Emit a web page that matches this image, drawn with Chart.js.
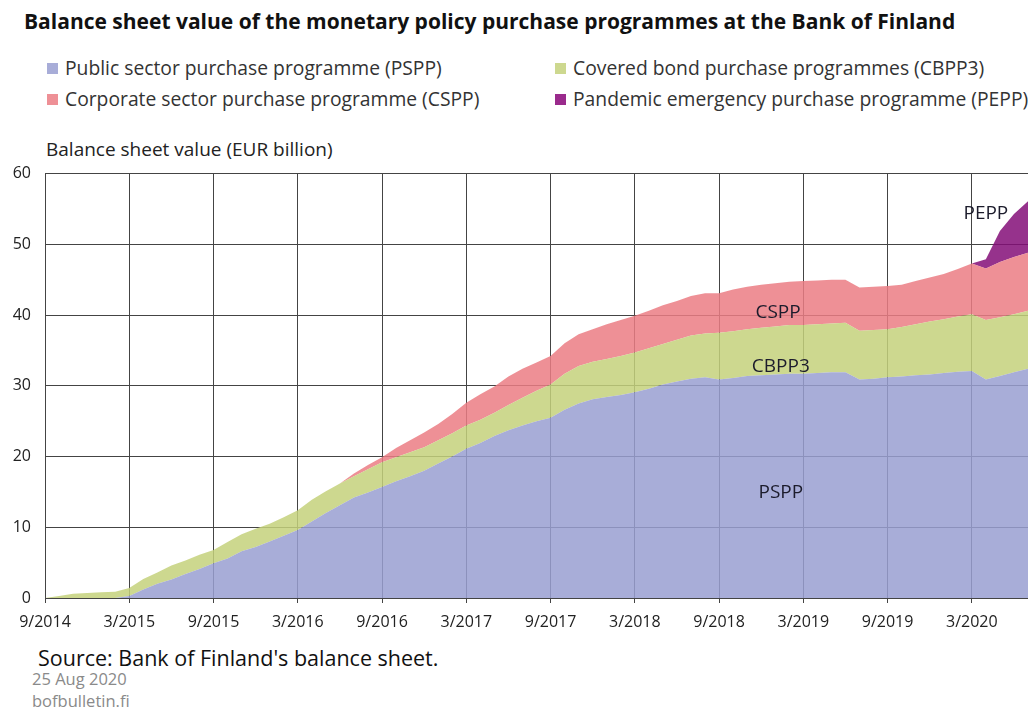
<!DOCTYPE html>
<html>
<head>
<meta charset="utf-8">
<script src="https://cdn.jsdelivr.net/npm/chart.js@4/dist/chart.umd.min.js"></script>
<style>
  body { margin: 0; background: #fff; font-family: "Open Sans", sans-serif; color: #222; }
  #wrap { position: relative; width: 1028px; height: 709px; overflow: hidden; }
  .abs { position: absolute; white-space: nowrap; line-height: 1; }
  #title { left: 24px; top: 11px; font-size: 21px; font-weight: bold; color: #111; }
  .leg { font-size: 19.3px; color: #333; }
  .leg i { display: inline-block; width: 11px; height: 11px; margin-right: 7px; vertical-align: 1px; }
  #ytitle { left: 46px; top: 140px; font-size: 19px; color: #222; }
  #source { left: 38px; top: 647px; font-size: 21.5px; color: #111; }
  .foot { left: 32px; font-size: 16.5px; color: #8a8a8a; }
  #chart { position: absolute; left: 0; top: 150px; }
</style>
</head>
<body>
<div id="wrap">
  <div id="title" class="abs">Balance sheet value of the monetary policy purchase programmes at the Bank of Finland</div>
  <div class="abs leg" style="left:47px; top:58px"><i style="background:#a8add8"></i>Public sector purchase programme (PSPP)</div>
  <div class="abs leg" style="left:555px; top:58px"><i style="background:#cdd88f"></i>Covered bond purchase programmes (CBPP3)</div>
  <div class="abs leg" style="left:47px; top:89px"><i style="background:#ee9096"></i>Corporate sector purchase programme (CSPP)</div>
  <div class="abs leg" style="left:555px; top:89px"><i style="background:#9a2a8c"></i>Pandemic emergency purchase programme (PEPP)</div>
  <div id="ytitle" class="abs">Balance sheet value (EUR billion)</div>
  <canvas id="chart" width="1028" height="488"></canvas>
  <div id="source" class="abs">Source: Bank of Finland's balance sheet.</div>
  <div class="abs foot" style="top:671px">25 Aug 2020</div>
  <div class="abs foot" style="top:693px">bofbulletin.fi</div>
</div>
<script>
// months since 9/2014 (0 = 9/2014 ... 70 = 7/2020)
const months = Array.from({ length: 71 }, (_, i) => i);

// EUR billion, monthly
const pspp = [
  0, 0, 0, 0, 0, 0, 0.3, 1.2, 2.0, 2.6, 3.4, 4.1, 4.9, 5.6, 6.6, 7.2, 8.0, 8.8, 9.6, 10.8,
  12.0, 13.1, 14.2, 14.9, 15.7, 16.5, 17.2, 18.0, 19.0, 20.0, 21.1, 21.9, 22.9, 23.7, 24.4, 25.0, 25.5, 26.6, 27.5, 28.1,
  28.4, 28.7, 29.1, 29.6, 30.2, 30.6, 31.0, 31.2, 30.9, 31.1, 31.4, 31.5, 31.6, 31.7, 31.7, 31.8, 31.9, 31.9, 30.9, 31.0,
  31.2, 31.3, 31.5, 31.6, 31.8, 32.0, 32.1, 30.9, 31.4, 31.9, 32.4
];
const cbpp3 = [
  0, 0.3, 0.6, 0.7, 0.8, 0.9, 1.1, 1.5, 1.6, 2.0, 1.9, 2.0, 1.9, 2.3, 2.4, 2.6, 2.5, 2.6, 2.8, 3.1,
  3.1, 3.1, 3.0, 3.3, 3.5, 3.4, 3.4, 3.3, 3.3, 3.3, 3.3, 3.3, 3.3, 3.6, 3.9, 4.3, 4.7, 5.1, 5.3, 5.3,
  5.4, 5.5, 5.6, 5.7, 5.7, 5.9, 6.1, 6.2, 6.6, 6.6, 6.6, 6.7, 6.8, 6.9, 6.9, 6.9, 6.9, 7.0, 6.9, 6.9,
  6.8, 7.0, 7.2, 7.5, 7.6, 7.8, 8.0, 8.4, 8.3, 8.2, 8.2
];
const cspp = [
  0, 0, 0, 0, 0, 0, 0, 0, 0, 0, 0, 0, 0, 0, 0, 0, 0, 0, 0, 0,
  0, 0, 0.4, 0.6, 0.7, 1.3, 1.7, 2.1, 2.3, 2.7, 3.2, 3.6, 3.7, 4.0, 4.1, 4.0, 4.0, 4.3, 4.5, 4.6,
  4.9, 5.1, 5.2, 5.3, 5.5, 5.5, 5.6, 5.7, 5.6, 5.9, 6.0, 6.1, 6.1, 6.1, 6.2, 6.2, 6.2, 6.1, 6.1, 6.1,
  6.1, 6.0, 6.1, 6.2, 6.4, 6.7, 7.2, 7.3, 7.8, 8.1, 8.2
];
const pepp = [
  0, 0, 0, 0, 0, 0, 0, 0, 0, 0, 0, 0, 0, 0, 0, 0, 0, 0, 0, 0,
  0, 0, 0, 0, 0, 0, 0, 0, 0, 0, 0, 0, 0, 0, 0, 0, 0, 0, 0, 0,
  0, 0, 0, 0, 0, 0, 0, 0, 0, 0, 0, 0, 0, 0, 0, 0, 0, 0, 0, 0,
  0, 0, 0, 0, 0, 0, 0, 1.3, 4.4, 6.1, 7.3
];

const tickLabels = ["9/2014", "3/2015", "9/2015", "3/2016", "9/2016", "3/2017", "9/2017",
  "3/2018", "9/2018", "3/2019", "9/2019", "3/2020"];

// labels written inside the areas (month index, value)
const areaLabels = [
  { text: "PSPP", x: 52.4, y: 14.9 },
  { text: "CBPP3", x: 52.4, y: 32.7 },
  { text: "CSPP", x: 52.2, y: 40.3 },
  { text: "PEPP", x: 67.0, y: 54.4 },
];

const toPoints = (arr) => arr.map((v, i) => ({ x: months[i], y: v }));

const areaText = {
  id: "areaText",
  afterDatasetsDraw(chart) {
    const { ctx, scales } = chart;
    ctx.save();
    ctx.font = '19px "Open Sans"';
    ctx.fillStyle = "#1c1c2c";
    ctx.textAlign = "center";
    ctx.textBaseline = "middle";
    areaLabels.forEach((l) => {
      ctx.fillText(l.text, scales.x.getPixelForValue(l.x), scales.y.getPixelForValue(l.y));
    });
    ctx.restore();
  },
};

function area(label, data, color, fill) {
  return {
    label,
    data: toPoints(data),
    backgroundColor: color,
    borderWidth: 0,
    pointRadius: 0,
    tension: 0,
    fill,
  };
}

new Chart(document.getElementById("chart"), {
  type: "line",
  data: {
    datasets: [
      area("PSPP", pspp, "rgba(153,159,209,0.85)", "origin"),
      area("CBPP3", cbpp3, "rgba(196,209,123,0.85)", "-1"),
      area("CSPP", cspp, "rgba(235,124,132,0.85)", "-1"),
      area("PEPP", pepp, "rgba(132,14,120,0.85)", "-1"),
    ],
  },
  options: {
    responsive: false,
    devicePixelRatio: 1,
    animation: false,
    layout: { padding: { top: 2, right: 0, left: 0, bottom: 0 } },
    plugins: { legend: { display: false }, tooltip: { enabled: false } },
    scales: {
      x: {
        type: "linear",
        min: 0,
        max: 70,
        afterBuildTicks: (s) => { s.ticks = s.ticks.filter((t) => t.value % 6 === 0); },
        afterFit: (s) => { s.height = 40; },
        ticks: {
          stepSize: 6,
          maxRotation: 0,
          autoSkip: false,
          padding: 10,
          color: "#222",
          font: { family: "Open Sans", size: 16 },
          callback: (v) => tickLabels[v / 6],
        },
        grid: { color: "#444", lineWidth: 1, tickLength: 5 },
        border: { color: "#444", width: 1 },
      },
      y: {
        stacked: true,
        min: 0,
        max: 60,
        afterFit: (s) => { s.width = 45; },
        ticks: {
          stepSize: 10,
          padding: 14,
          color: "#222",
          font: { family: "Open Sans", size: 16 },
        },
        grid: { color: "#444", lineWidth: 1, drawTicks: false },
        border: { color: "#444", width: 1 },
      },
    },
  },
  plugins: [areaText],
});
</script>
</body>
</html>
